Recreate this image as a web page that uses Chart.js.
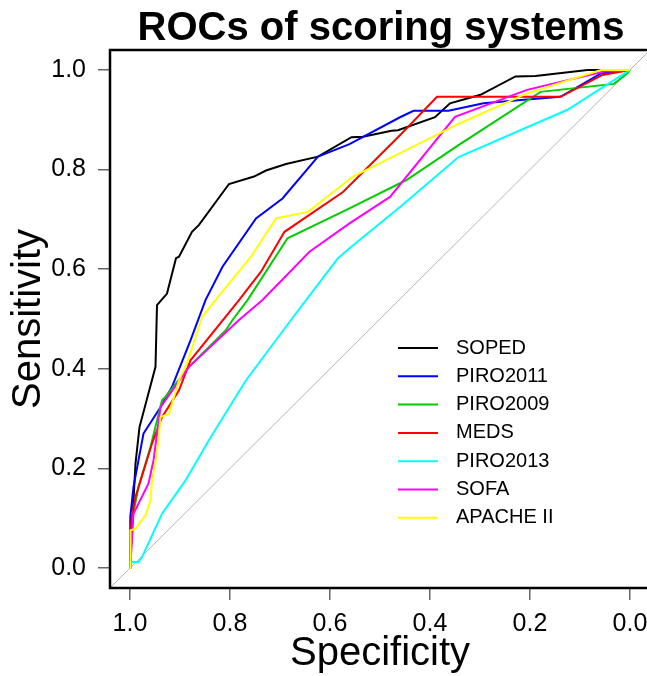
<!DOCTYPE html>
<html>
<head>
<meta charset="utf-8">
<title>ROCs of scoring systems</title>
<script src="https://cdn.jsdelivr.net/npm/chart.js@4.4.1/dist/chart.umd.min.js"></script>
<style>
  html, body { margin: 0; padding: 0; background: #fff; overflow: hidden; }
  #wrap { width: 652px; height: 676px; }
</style>
</head>
<body>
<div id="wrap"><canvas id="rocChart" width="652" height="676"></canvas></div>
<script>
const titleText = 'ROCs of scoring systems';
const seriesNames = ['SOPED', 'PIRO2011', 'PIRO2009', 'MEDS', 'PIRO2013', 'SOFA', 'APACHE II'];
const seriesColors = ['#000000', '#0000ff', '#00cd00', '#ff0000', '#00ffff', '#ff00ff', '#ffff00'];
const tickValues = [0, 0.2, 0.4, 0.6, 0.8, 1.0];

// specificity / sensitivity pairs
const sopedSpec = [1.0, 0.995, 0.989, 0.981, 0.949, 0.946, 0.926, 0.908, 0.902, 0.876, 0.862, 0.802, 0.752, 0.728, 0.688, 0.624, 0.557, 0.534, 0.477, 0.464, 0.39, 0.36, 0.299, 0.229, 0.189, 0.085, 0.0];
const sopedSens = [0.0, 0.10, 0.21, 0.283, 0.404, 0.528, 0.551, 0.622, 0.625, 0.675, 0.689, 0.771, 0.786, 0.798, 0.811, 0.826, 0.865, 0.866, 0.878, 0.879, 0.905, 0.933, 0.95, 0.987, 0.988, 1.0, 1.0];

const piro2011Spec = [1.0, 1.0, 0.999, 0.993, 0.973, 0.939, 0.916, 0.879, 0.849, 0.815, 0.748, 0.695, 0.624, 0.561, 0.46, 0.433, 0.363, 0.293, 0.212, 0.139, 0.058, 0.0];
const piro2011Sens = [0.0, 0.009, 0.102, 0.163, 0.27, 0.323, 0.364, 0.457, 0.538, 0.605, 0.702, 0.742, 0.826, 0.851, 0.905, 0.918, 0.918, 0.933, 0.94, 0.946, 0.993, 1.0];

const piro2009Spec = [1.0, 0.999, 0.996, 0.983, 0.959, 0.936, 0.929, 0.882, 0.808, 0.795, 0.765, 0.685, 0.561, 0.447, 0.343, 0.179, 0.032, 0.005, 0.0];
const piro2009Sens = [0.0, 0.009, 0.096, 0.163, 0.243, 0.337, 0.344, 0.404, 0.478, 0.498, 0.538, 0.662, 0.722, 0.779, 0.849, 0.956, 0.972, 0.993, 1.0];

const medsSpec = [1.0, 0.997, 0.989, 0.956, 0.936, 0.902, 0.879, 0.782, 0.738, 0.691, 0.574, 0.46, 0.386, 0.139, 0.055, 0.0];
const medsSens = [0.0, 0.10, 0.143, 0.25, 0.303, 0.357, 0.417, 0.538, 0.595, 0.675, 0.755, 0.869, 0.946, 0.946, 0.99, 1.0];

const piro2013Spec = [1.0, 0.999, 0.983, 0.976, 0.936, 0.889, 0.842, 0.768, 0.678, 0.648, 0.584, 0.561, 0.46, 0.343, 0.125, 0.0];
const piro2013Sens = [0.0, 0.012, 0.012, 0.022, 0.109, 0.176, 0.257, 0.377, 0.498, 0.538, 0.622, 0.642, 0.725, 0.825, 0.92, 1.0];

const sofaSpec = [1.0, 0.999, 0.993, 0.963, 0.953, 0.939, 0.882, 0.782, 0.735, 0.641, 0.561, 0.48, 0.35, 0.206, 0.052, 0.0];
const sofaSens = [0.0, 0.009, 0.109, 0.17, 0.216, 0.323, 0.404, 0.498, 0.538, 0.635, 0.692, 0.745, 0.906, 0.96, 0.997, 1.0];

const apacheSpec = [1.0, 0.999, 0.989, 0.969, 0.959, 0.956, 0.949, 0.943, 0.939, 0.922, 0.902, 0.886, 0.856, 0.829, 0.758, 0.708, 0.644, 0.554, 0.46, 0.34, 0.206, 0.058, 0.0];
const apacheSens = [0.0, 0.076, 0.079, 0.106, 0.136, 0.176, 0.213, 0.257, 0.303, 0.31, 0.377, 0.411, 0.504, 0.538, 0.625, 0.702, 0.715, 0.786, 0.833, 0.893, 0.953, 1.0, 1.0];

// chance line
const diagSpec = [1.1, -0.1];
const diagSens = [-0.1, 1.1];

const fontFamily = '"Liberation Sans", Arial, Helvetica, sans-serif';
Chart.defaults.font.family = fontFamily;
Chart.defaults.color = '#000';

function toPoints(xs, ys) {
    return xs.map((x, i) => ({ x: x, y: ys[i] }));
}

const curves = [
    [sopedSpec, sopedSens],
    [piro2011Spec, piro2011Sens],
    [piro2009Spec, piro2009Sens],
    [medsSpec, medsSens],
    [piro2013Spec, piro2013Sens],
    [sofaSpec, sofaSens],
    [apacheSpec, apacheSens]
];

const datasets = curves.map((c, i) => ({
    label: seriesNames[i],
    data: toPoints(c[0], c[1]),
    borderColor: seriesColors[i],
    borderWidth: 2,
    pointRadius: 0,
    tension: 0,
    fill: false,
    order: curves.length - i
}));
datasets.push({
    label: 'diagonal',
    data: toPoints(diagSpec, diagSens),
    borderColor: '#b5b5b5',
    borderWidth: 1,
    pointRadius: 0,
    fill: false,
    order: 99
});

// frame round the plot, title above it, legend inside it
const framePlugin = {
    id: 'frameAndLegend',
    afterDraw(chart) {
        const ctx = chart.ctx;
        const a = chart.chartArea;
        ctx.save();
        ctx.strokeStyle = '#000';
        ctx.lineWidth = 2.5;
        ctx.strokeRect(a.left, a.top, a.right - a.left, a.bottom - a.top);

        ctx.fillStyle = '#000';
        ctx.font = 'bold 40px ' + fontFamily;
        ctx.textAlign = 'center';
        ctx.textBaseline = 'alphabetic';
        ctx.fillText(titleText, (a.left + a.right) / 2 + 1, a.top - 10);

        const lx = a.left + 288;
        const ly = a.top + 298;
        ctx.font = '20px ' + fontFamily;
        ctx.textAlign = 'left';
        ctx.textBaseline = 'middle';
        seriesNames.forEach((name, i) => {
            const y = ly + i * 28.3;
            ctx.strokeStyle = seriesColors[i];
            ctx.lineWidth = 2;
            ctx.beginPath();
            ctx.moveTo(lx, y);
            ctx.lineTo(lx + 40, y);
            ctx.stroke();
            ctx.fillStyle = '#000';
            ctx.fillText(name, lx + 58, y);
        });
        ctx.restore();
    }
};

const tickGrid = { drawOnChartArea: false, drawTicks: true, tickLength: 12, color: '#666', lineWidth: 1.5 };

new Chart(document.getElementById('rocChart'), {
    type: 'line',
    data: { datasets: datasets },
    options: {
        responsive: false,
        animation: false,
        devicePixelRatio: 1,
        layout: { padding: { top: 50, right: 2, left: 0, bottom: 0 } },
        plugins: {
            legend: { display: false },
            title: { display: false },
            tooltip: { enabled: false }
        },
        scales: {
            x: {
                type: 'linear',
                reverse: true,
                min: -0.04,
                max: 1.04,
                afterFit: s => { s.height = 88; },
                afterBuildTicks: s => { s.ticks = tickValues.map(v => ({ value: v })); },
                grid: tickGrid,
                border: { display: false },
                ticks: { font: { size: 25 }, color: '#000', padding: 9, maxRotation: 0, callback: v => v.toFixed(1) },
                title: { display: true, text: 'Specificity', color: '#000', font: { size: 40, lineHeight: 1.1 }, padding: 0 }
            },
            y: {
                type: 'linear',
                min: -0.04,
                max: 1.04,
                afterFit: s => { s.width = 110; },
                afterBuildTicks: s => { s.ticks = tickValues.map(v => ({ value: v })); },
                grid: tickGrid,
                border: { display: false },
                ticks: { font: { size: 25 }, color: '#000', padding: 12, callback: v => v.toFixed(1) },
                title: { display: true, text: 'Sensitivity', color: '#000', font: { size: 40, lineHeight: 1.1 }, padding: { top: 7, bottom: 0 } }
            }
        }
    },
    plugins: [framePlugin]
});
</script>
</body>
</html>
